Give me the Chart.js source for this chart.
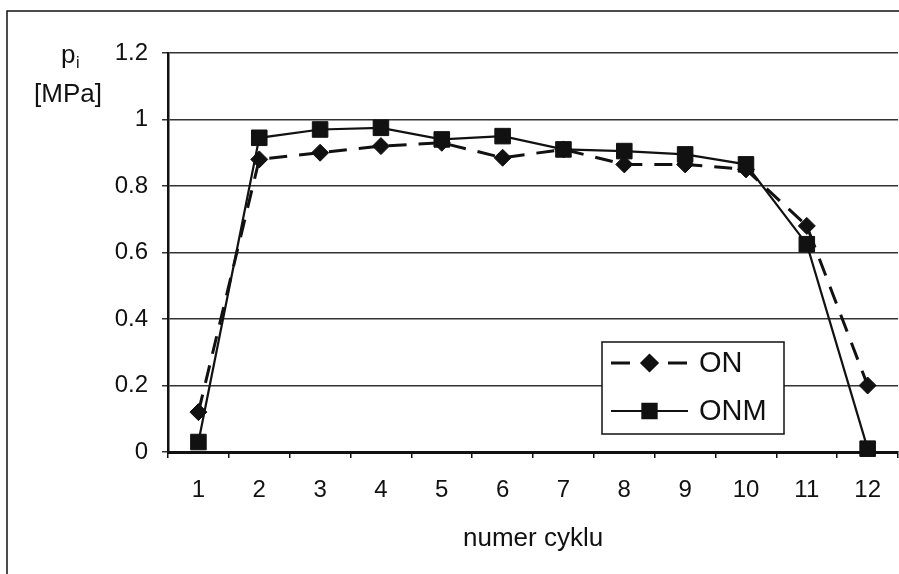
<!DOCTYPE html>
<html>
<head>
<meta charset="utf-8">
<script src="https://cdn.jsdelivr.net/npm/chart.js@4/dist/chart.umd.min.js"></script>
<style>
  body { margin: 0; background: #fff; }
  canvas { display: block; }
</style>
</head>
<body>
<canvas id="wykres" width="899" height="574"></canvas>
<script>
// dane
var cykle = ["1", "2", "3", "4", "5", "6", "7", "8", "9", "10", "11", "12"];
var seriaON = [0.12, 0.88, 0.90, 0.92, 0.93, 0.885, 0.91, 0.865, 0.865, 0.85, 0.68, 0.20];
var seriaONM = [0.03, 0.945, 0.97, 0.975, 0.94, 0.95, 0.91, 0.905, 0.895, 0.865, 0.625, 0.01];
var ticksY = [0, 0.2, 0.4, 0.6, 0.8, 1, 1.2];

var czcionka = "'Liberation Sans', Arial, sans-serif";

// ramka, opis osi Y i legenda
var dodatki = {
  id: 'dodatki',
  afterDraw: function (chart) {
    var ctx = chart.ctx;
    ctx.save();
    ctx.strokeStyle = '#111';
    ctx.lineWidth = 1.5;
    ctx.beginPath();
    ctx.moveTo(7, 574);
    ctx.lineTo(7, 11);
    ctx.lineTo(899, 11);
    ctx.stroke();

    ctx.fillStyle = '#111';
    ctx.textBaseline = 'alphabetic';
    ctx.textAlign = 'left';
    ctx.font = "26px " + czcionka;
    ctx.fillText("p", 61, 63);
    ctx.font = "16px " + czcionka;
    ctx.fillText("i", 76, 68);
    ctx.font = "26px " + czcionka;
    ctx.fillText("[MPa]", 34, 102);

    // legenda
    ctx.fillStyle = '#fff';
    ctx.fillRect(602, 342, 182, 92);
    ctx.strokeStyle = '#111';
    ctx.lineWidth = 1.5;
    ctx.strokeRect(602, 342, 182, 92);
    var wiersze = [363, 411];
    var kreski = [[19, 38], []];
    chart.data.datasets.forEach(function (ds, i) {
      var y = wiersze[i];
      ctx.strokeStyle = ds.borderColor;
      ctx.lineWidth = ds.borderWidth;
      ctx.setLineDash(kreski[i]);
      ctx.beginPath();
      ctx.moveTo(611, y);
      ctx.lineTo(688, y);
      ctx.stroke();
      ctx.setLineDash([]);
      Chart.helpers.drawPoint(ctx, {
        pointStyle: ds.pointStyle,
        radius: ds.pointRadius - 1,
        borderWidth: 1
      }, 649.5, y);
      ctx.fillStyle = ds.pointBackgroundColor;
      ctx.fill();
      ctx.fillStyle = '#111';
      ctx.font = "29px " + czcionka;
      ctx.textBaseline = 'middle';
      ctx.fillText(ds.label, 699, y + 1);
    });
    ctx.restore();
  }
};

var ctx = document.getElementById('wykres').getContext('2d');

new Chart(ctx, {
  type: 'line',
  data: {
    labels: cykle,
    datasets: [
      {
        label: 'ON',
        data: seriaON,
        borderColor: '#111',
        borderWidth: 3,
        borderDash: [18, 12],
        pointStyle: 'rectRot',
        pointRadius: 8.5,
        pointBackgroundColor: '#111',
        pointBorderColor: '#111',
        pointBorderWidth: 1,
        tension: 0,
        clip: false
      },
      {
        label: 'ONM',
        data: seriaONM,
        borderColor: '#111',
        borderWidth: 2.2,
        pointStyle: 'rect',
        pointRadius: 11,
        pointBackgroundColor: '#111',
        pointBorderColor: '#111',
        pointBorderWidth: 1,
        tension: 0,
        clip: false
      }
    ]
  },
  options: {
    responsive: false,
    animation: false,
    layout: { autoPadding: false, padding: { top: 53, left: 0, right: 0, bottom: 0 } },
    plugins: {
      legend: { display: false },
      tooltip: { enabled: false }
    },
    scales: {
      x: {
        offset: true,
        afterFit: function (scale) { scale.height = 122; },
        grid: {
          offset: true,
          drawOnChartArea: false,
          drawTicks: true,
          tickLength: 6,
          color: '#111',
          lineWidth: 1.5
        },
        border: { display: true, color: '#111', width: 3 },
        ticks: {
          color: '#111',
          padding: 18,
          maxRotation: 0,
          font: { family: czcionka, size: 24 }
        },
        title: {
          display: true,
          text: 'numer cyklu',
          color: '#111',
          padding: { top: 0, bottom: 20 },
          font: { family: czcionka, size: 26 }
        }
      },
      y: {
        min: 0,
        max: 1.2,
        afterFit: function (scale) { scale.width = 168; },
        afterBuildTicks: function (scale) {
          scale.ticks = ticksY.map(function (v) { return { value: v }; });
        },
        grid: {
          color: '#333',
          lineWidth: 1.5,
          drawTicks: true,
          tickLength: 6
        },
        border: { display: true, color: '#111', width: 2.5 },
        ticks: {
          color: '#111',
          padding: 14,
          font: { family: czcionka, size: 24 },
          callback: function (v) { return String(Math.round(v * 10) / 10); }
        }
      }
    }
  },
  plugins: [dodatki]
});
</script>
</body>
</html>
